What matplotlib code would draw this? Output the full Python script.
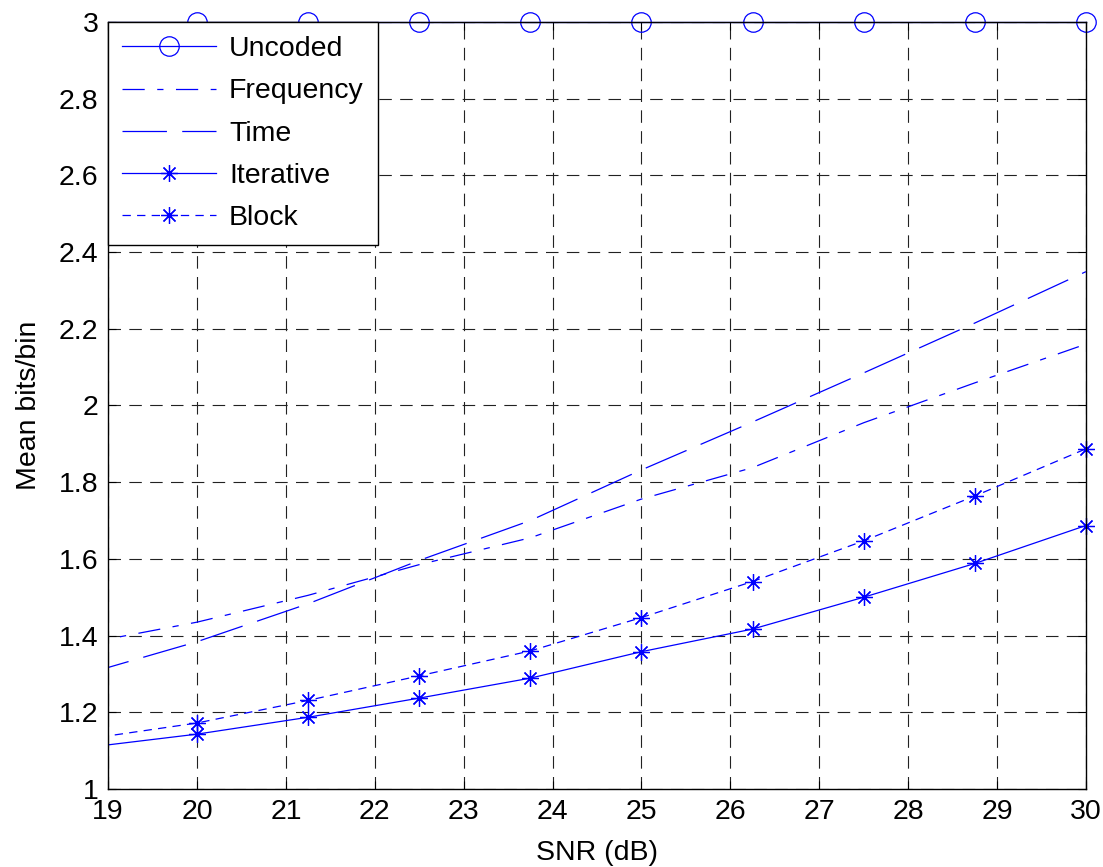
import numpy as np
import matplotlib
matplotlib.use('Agg')
import matplotlib.pyplot as plt
from matplotlib.patches import Rectangle

plt.rcParams['font.family'] = ['Liberation Sans', 'DejaVu Sans']
plt.rcParams['lines.scale_dashes'] = False

# SNR points (dB); the first one sits left of the visible range
snr = [18.75, 20, 21.25, 22.5, 23.75, 25, 26.25, 27.5, 28.75, 30]

uncoded   = [3, 3, 3, 3, 3, 3, 3, 3, 3, 3]
frequency = [1.380, 1.435, 1.505, 1.585, 1.655, 1.756, 1.838, 1.955, 2.059, 2.160]
time_     = [1.300, 1.384, 1.483, 1.596, 1.700, 1.832, 1.957, 2.085, 2.215, 2.349]
iterative = [1.108, 1.143, 1.187, 1.237, 1.289, 1.358, 1.417, 1.500, 1.588, 1.687]
block     = [1.130, 1.172, 1.231, 1.295, 1.360, 1.447, 1.541, 1.647, 1.764, 1.887]

labels = ['Uncoded', 'Frequency', 'Time', 'Iterative', 'Block']

fs = 20.5
fig = plt.figure(figsize=(11.03, 8.67), dpi=100)
ax = fig.add_axes([0.098, 0.090, 0.8865, 0.8846])

star = (8, 2, 0)
lw = 0.9
series = [
    (uncoded,   dict(linestyle='-', marker='o', markersize=14, markerfacecolor='none')),
    (frequency, dict(linestyle=(0, (16, 9, 4.5, 9)))),
    (time_,     dict(linestyle=(0, (32, 11)))),
    (iterative, dict(linestyle='-', marker=star, markersize=12)),
    (block,     dict(linestyle=(0, (6, 4.5)), marker=star, markersize=12)),
]

# clip the lines at the left edge but let markers spill over top/right like MATLAB
clip = Rectangle((0, -0.1), 1.05, 1.2, transform=ax.transAxes)
handles = []
for (vals, style), lab in zip(series, labels):
    ln, = ax.plot(snr, vals, color='#0000ff', lw=lw, markevery=slice(1, None),
                  markeredgewidth=0.9, label=lab, **style)
    ln.set_clip_path(clip)
    handles.append(ln)

ax.set_xlim(19, 30)
ax.set_ylim(1, 3)
ax.set_xticks(np.arange(19, 31, 1))
ax.set_yticks(np.round(np.arange(1, 3.01, 0.2), 1))
ax.yaxis.set_major_formatter(plt.FormatStrFormatter('%g'))
ax.grid(True, color='#222222', linestyle=(0, (9, 6)), linewidth=0.8)
ax.tick_params(direction='in', length=6, width=0.8, top=True, right=True,
               labelsize=fs, pad=7)
for s in ax.spines.values():
    s.set_linewidth(1.0)

ax.set_xlabel('SNR (dB)', fontsize=fs, labelpad=11)
ax.set_ylabel('Mean bits/bin', fontsize=fs, labelpad=12)

leg = ax.legend(handles=handles, loc='upper left', borderaxespad=0,
                fontsize=fs, handlelength=3.3, handletextpad=0.45,
                labelspacing=0.57, borderpad=0.5, fancybox=False,
                framealpha=1, edgecolor='black')
leg.get_frame().set_linewidth(1.0)

fig.savefig('out.png', dpi=100)
